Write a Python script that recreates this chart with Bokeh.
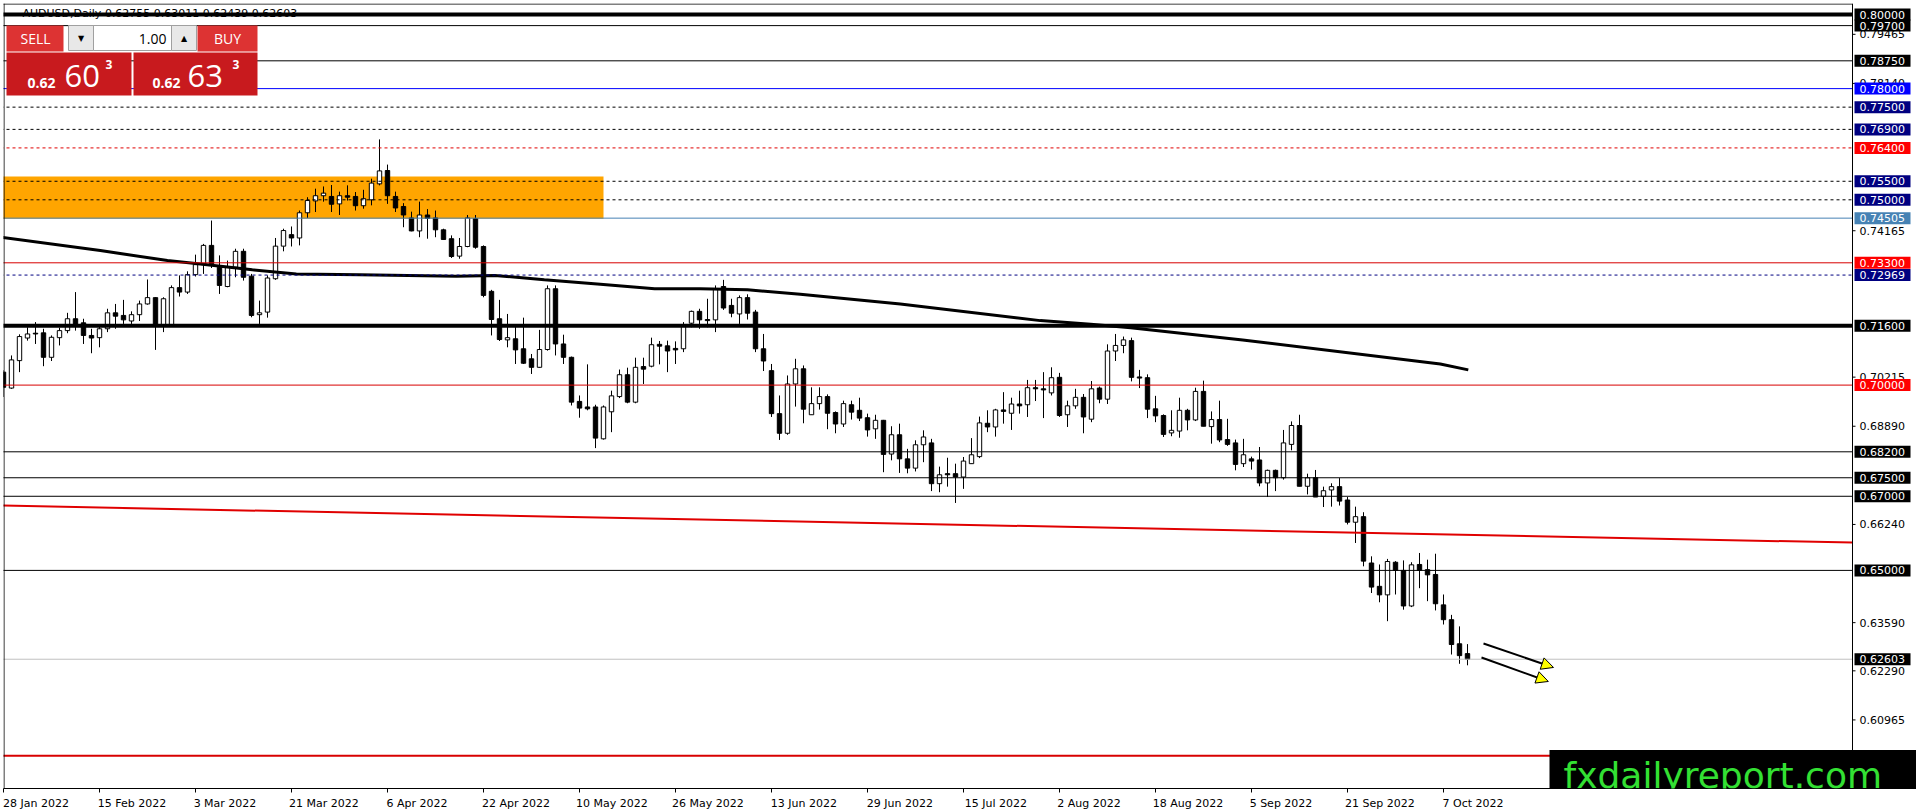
from bokeh.plotting import figure
from bokeh.models import Range1d, FixedTicker, Label, Arrow, NormalHead
from bokeh.core.properties import value
from bokeh.embed import file_html
from bokeh.resources import INLINE

# ---------------- data ----------------
symbol_title = "AUDUSD,Daily  0.62755 0.63011 0.62439 0.62603"

opens = [
    0.7035, 0.6992, 0.7066, 0.7127, 0.7140, 0.7141, 0.7075, 0.7128, 0.7147, 0.7179,
    0.7168, 0.7134, 0.7128, 0.7152, 0.7195, 0.7188, 0.7173, 0.7190, 0.7219, 0.7236,
    0.7161, 0.7161, 0.7263, 0.7251, 0.7298, 0.7325, 0.7377, 0.7318, 0.7266, 0.7318,
    0.7361, 0.7294, 0.7190, 0.7197, 0.7287, 0.7375, 0.7406, 0.7397, 0.7465, 0.7497,
    0.7511, 0.7509, 0.7489, 0.7511, 0.7509, 0.7484, 0.7500, 0.7543, 0.7579, 0.7509,
    0.7482, 0.7451, 0.7416, 0.7459, 0.7451, 0.7419, 0.7395, 0.7348, 0.7374, 0.7449,
    0.7374, 0.7253, 0.7179, 0.7122, 0.7125, 0.7098, 0.7071, 0.7048, 0.7096, 0.7260,
    0.7111, 0.7075, 0.6956, 0.6941, 0.6941, 0.6855, 0.6928, 0.6969, 0.7028, 0.6954,
    0.7050, 0.7051, 0.7110, 0.7106, 0.7099, 0.7098, 0.7167, 0.7199, 0.7177, 0.7176,
    0.7266, 0.7215, 0.7192, 0.7236, 0.7197, 0.7098, 0.7039, 0.6923, 0.6870, 0.7003,
    0.7044, 0.6920, 0.6950, 0.6969, 0.6926, 0.6895, 0.6947, 0.6932, 0.6912, 0.6882,
    0.6905, 0.6814, 0.6866, 0.6801, 0.6776, 0.6839, 0.6844, 0.6734, 0.6761, 0.6761,
    0.6752, 0.6788, 0.6807, 0.6897, 0.6887, 0.6933, 0.6924, 0.6949, 0.6947, 0.6993,
    0.6990, 0.6979, 0.7021, 0.6920, 0.6944, 0.6967, 0.6908, 0.6992, 0.6962, 0.7092,
    0.7107, 0.7120, 0.7022, 0.7020, 0.6936, 0.6918, 0.6871, 0.6876, 0.6932, 0.6906,
    0.6983, 0.6888, 0.6907, 0.6853, 0.6844, 0.6788, 0.6801, 0.6798, 0.6736, 0.6770,
    0.6750, 0.6840, 0.6891, 0.6727, 0.6750, 0.6700, 0.6717, 0.6726, 0.6690, 0.6630,
    0.6645, 0.6520, 0.6457, 0.6434, 0.6522, 0.6500, 0.6404, 0.6516, 0.6502, 0.6489,
    0.6407, 0.6367, 0.6302, 0.62755]

highs = [
    0.7040, 0.7080, 0.7137, 0.7156, 0.7170, 0.7152, 0.7134, 0.7155, 0.7195, 0.7251,
    0.7179, 0.7152, 0.7161, 0.7206, 0.7219, 0.7230, 0.7199, 0.7228, 0.7285, 0.7237,
    0.7237, 0.7269, 0.7296, 0.7307, 0.7352, 0.7381, 0.7444, 0.7350, 0.7336, 0.7368,
    0.7368, 0.7300, 0.7228, 0.7296, 0.7397, 0.7422, 0.7428, 0.7471, 0.7507, 0.7530,
    0.7536, 0.7540, 0.7522, 0.7539, 0.7521, 0.7527, 0.7557, 0.7663, 0.7595, 0.7522,
    0.7491, 0.7468, 0.7495, 0.7475, 0.7471, 0.7422, 0.7404, 0.7397, 0.7459, 0.7459,
    0.7377, 0.7257, 0.7230, 0.7192, 0.7158, 0.7182, 0.7084, 0.7149, 0.7269, 0.7269,
    0.7136, 0.7077, 0.6972, 0.7056, 0.6947, 0.6945, 0.6985, 0.7042, 0.7047, 0.7074,
    0.7074, 0.7128, 0.7119, 0.7120, 0.7118, 0.7170, 0.7201, 0.7206, 0.7233, 0.7269,
    0.7284, 0.7233, 0.7242, 0.7245, 0.7203, 0.7138, 0.7057, 0.6972, 0.7026, 0.7071,
    0.7053, 0.6994, 0.6994, 0.6975, 0.6929, 0.6958, 0.6958, 0.6966, 0.6923, 0.6920,
    0.6906, 0.6889, 0.6896, 0.6828, 0.6851, 0.6878, 0.6855, 0.6780, 0.6804, 0.6788,
    0.6806, 0.6857, 0.6915, 0.6932, 0.6936, 0.6981, 0.6966, 0.6985, 0.7014, 0.7014,
    0.7035, 0.7048, 0.7033, 0.6958, 0.6990, 0.6976, 0.7011, 0.6996, 0.7110, 0.7138,
    0.7131, 0.7128, 0.7041, 0.7029, 0.6971, 0.6921, 0.6932, 0.6966, 0.6936, 0.6993,
    0.7012, 0.6929, 0.6958, 0.6909, 0.6853, 0.6855, 0.6807, 0.6833, 0.6772, 0.6772,
    0.6879, 0.6902, 0.6920, 0.6761, 0.6771, 0.6726, 0.6735, 0.6749, 0.6698, 0.6672,
    0.6657, 0.6538, 0.6516, 0.6531, 0.6525, 0.6527, 0.6522, 0.6547, 0.6529, 0.6545,
    0.6435, 0.6380, 0.6349, 0.63011]

lows = [
    0.6968, 0.6990, 0.7035, 0.7120, 0.7111, 0.7051, 0.7065, 0.7107, 0.7140, 0.7147,
    0.7111, 0.7086, 0.7102, 0.7143, 0.7152, 0.7165, 0.7165, 0.7173, 0.7217, 0.7095,
    0.7143, 0.7158, 0.7239, 0.7246, 0.7293, 0.7300, 0.7316, 0.7246, 0.7264, 0.7291,
    0.7282, 0.7183, 0.7165, 0.7182, 0.7284, 0.7361, 0.7374, 0.7377, 0.7451, 0.7467,
    0.7495, 0.7467, 0.7459, 0.7498, 0.7471, 0.7476, 0.7485, 0.7539, 0.7489, 0.7467,
    0.7426, 0.7415, 0.7399, 0.7395, 0.7399, 0.7392, 0.7343, 0.7341, 0.7372, 0.7368,
    0.7237, 0.7134, 0.7119, 0.7102, 0.7057, 0.7057, 0.7030, 0.7047, 0.7093, 0.7080,
    0.7057, 0.6945, 0.6912, 0.6932, 0.6830, 0.6853, 0.6873, 0.6965, 0.6951, 0.6951,
    0.7003, 0.7048, 0.7056, 0.7035, 0.7057, 0.7089, 0.7156, 0.7152, 0.7156, 0.7143,
    0.7203, 0.7183, 0.7165, 0.7177, 0.7089, 0.7038, 0.6914, 0.6852, 0.6866, 0.6942,
    0.6897, 0.6920, 0.6934, 0.6881, 0.6870, 0.6887, 0.6907, 0.6903, 0.6861, 0.6855,
    0.6765, 0.6797, 0.6763, 0.6762, 0.6767, 0.6792, 0.6714, 0.6711, 0.6726, 0.6682,
    0.6720, 0.6788, 0.6803, 0.6873, 0.6861, 0.6896, 0.6879, 0.6923, 0.6914, 0.6957,
    0.6911, 0.6972, 0.6914, 0.6887, 0.6936, 0.6870, 0.6900, 0.6951, 0.6949, 0.7065,
    0.7086, 0.7010, 0.6992, 0.6911, 0.6900, 0.6860, 0.6862, 0.6858, 0.6878, 0.6903,
    0.6889, 0.6842, 0.6846, 0.6836, 0.6770, 0.6779, 0.6772, 0.6727, 0.6698, 0.6714,
    0.6745, 0.6824, 0.6727, 0.6705, 0.6698, 0.6671, 0.6672, 0.6675, 0.6624, 0.6574,
    0.6511, 0.6439, 0.6414, 0.6363, 0.6435, 0.6394, 0.6401, 0.6452, 0.6417, 0.6392,
    0.6354, 0.6273, 0.6248, 0.62439]

closes = [
    0.6994, 0.7068, 0.7131, 0.7138, 0.7138, 0.7075, 0.7129, 0.7147, 0.7179, 0.7165,
    0.7134, 0.7127, 0.7152, 0.7195, 0.7186, 0.7176, 0.7190, 0.7219, 0.7236, 0.7161,
    0.7233, 0.7263, 0.7251, 0.7298, 0.7325, 0.7377, 0.7327, 0.7269, 0.7318, 0.7361,
    0.7291, 0.7188, 0.7195, 0.7289, 0.7375, 0.7417, 0.7397, 0.7465, 0.7498, 0.7511,
    0.7518, 0.7488, 0.7511, 0.7507, 0.7484, 0.7503, 0.7545, 0.7578, 0.7511, 0.7478,
    0.7459, 0.7416, 0.7459, 0.7450, 0.7419, 0.7393, 0.7347, 0.7374, 0.7451, 0.7372,
    0.7242, 0.7177, 0.7123, 0.7128, 0.7095, 0.7059, 0.7048, 0.7096, 0.7260, 0.7111,
    0.7075, 0.6954, 0.6938, 0.6936, 0.6857, 0.6941, 0.6971, 0.7028, 0.6954, 0.7048,
    0.7043, 0.7109, 0.7105, 0.7092, 0.7095, 0.7158, 0.7199, 0.7176, 0.7174, 0.7260,
    0.7208, 0.7194, 0.7236, 0.7194, 0.7098, 0.7065, 0.6923, 0.6870, 0.7003, 0.7044,
    0.6935, 0.6950, 0.6969, 0.6924, 0.6895, 0.6950, 0.6927, 0.6911, 0.6879, 0.6905,
    0.6813, 0.6866, 0.6801, 0.6776, 0.6839, 0.6860, 0.6734, 0.6758, 0.6758, 0.6752,
    0.6795, 0.6812, 0.6898, 0.6887, 0.6933, 0.6929, 0.6949, 0.6944, 0.6993, 0.6990,
    0.6987, 0.7020, 0.6918, 0.6944, 0.6967, 0.6914, 0.6990, 0.6962, 0.7092, 0.7107,
    0.7122, 0.7021, 0.7019, 0.6935, 0.6917, 0.6867, 0.6878, 0.6932, 0.6906, 0.6983,
    0.6889, 0.6907, 0.6852, 0.6840, 0.6786, 0.6812, 0.6795, 0.6736, 0.6770, 0.6750,
    0.6844, 0.6891, 0.6727, 0.6750, 0.6698, 0.6715, 0.6726, 0.6687, 0.6630, 0.6645,
    0.6525, 0.6455, 0.6434, 0.6524, 0.6500, 0.6404, 0.6515, 0.6500, 0.6488, 0.6410,
    0.6367, 0.6300, 0.6270, 0.62603]

# time-axis labels (every 12th bar, first bar = 28 Jan 2022)
date_label_bars = [0, 12, 24, 36, 48, 60, 72, 84, 96, 108, 120, 132, 144, 156, 168, 180]
date_labels = ["28 Jan 2022", "15 Feb 2022", "3 Mar 2022", "21 Mar 2022", "6 Apr 2022",
               "22 Apr 2022", "10 May 2022", "26 May 2022", "13 Jun 2022", "29 Jun 2022",
               "15 Jul 2022", "2 Aug 2022", "18 Aug 2022", "5 Sep 2022", "21 Sep 2022",
               "7 Oct 2022"]

# price-scale ticks
price_ticks = [0.79465, 0.78140, 0.74165, 0.70215, 0.68890, 0.66240, 0.63590, 0.62290, 0.60965]

# moving average (bar index, value)
ma_bars = [-0.4, 12.1, 20.5, 24.6, 31.1, 36.6, 44.5, 56.6, 61.4, 67.6, 74.6, 81.4, 87.1,
           93.0, 99.6, 112.1, 129.6, 135.9, 140.9, 154.9, 179.6, 183.1]
ma_vals = [0.7399, 0.7363, 0.7336, 0.7327, 0.7311, 0.7300, 0.7298, 0.7294, 0.7296, 0.7284,
           0.7272, 0.7260, 0.7260, 0.7257, 0.7245, 0.7219, 0.7174, 0.7164, 0.7155, 0.7122,
           0.7057, 0.7041]

# long red trend line
trend_bars = [-0.4, 231.1]
trend_vals = [0.6675, 0.6575]

# orange supply zone
zone_left, zone_right = -3, 75
zone_bottom, zone_top = 0.7449, 0.7563

# horizontal levels
level_prices = [0.80000, 0.79700, 0.78750, 0.78000, 0.77500, 0.76900, 0.76400, 0.75500,
                0.75000, 0.74505, 0.73300, 0.72969, 0.71600, 0.70000, 0.68200, 0.67500,
                0.67000, 0.65000, 0.62603, 0.60000]

# analyst arrows (bar index, price)
arrow_x0 = [185.0, 184.75]
arrow_y0 = [0.63028, 0.62650]
arrow_x1 = [193.75, 193.1]
arrow_y1 = [0.62381, 0.62003]

# trade panel texts
lot_text = "1.00"
sell_big, sell_small, sell_sup = "60", "0.62", "3"
buy_big, buy_small, buy_sup = "63", "0.62", "3"
watermark = "fxdailyreport.com"

# ---------------- styles ----------------
level_colors = ["black", "black", "black", "#0000FF", "black", "black", "#E00000", "black",
                "black", "#4682B4", "#D80000", "#000080", "black", "#D80000", "black", "black",
                "black", "black", "#C0C0C0", "#D80000"]
level_widths = [4, 1, 1, 1, 1, 1, 1, 1, 1, 1, 1, 1, 4, 1, 1, 1, 1, 1, 1, 2]
level_dashes = ["solid", "solid", "solid", "solid", "3 3", "3 3", "3 3", "3 3", "3 3",
                "solid", "solid", "3 3", "solid", "solid", "solid", "solid", "solid", "solid",
                "solid", "solid"]
label_bgs = ["black", "black", "black", "#0000FF", "#000080", "#000080", "#FF0000", "#000080",
             "#000080", "#4682B4", "#FF0000", "#000080", "black", "#FF0000", "black", "black",
             "black", "black", "black", None]

PX_BAR = 8.0        # pixels per bar
PX_UNIT = 3706.0    # pixels per price unit
FRAME_L, FRAME_T, FRAME_B = 3, 3, 788
AXIS_X = 1852       # price-scale line
W, H = 1916, 812


def X(px):  # screen-pixel -> bar index (decorations only)
    return (px - FRAME_L) / PX_BAR


def Y(py):  # screen-pixel -> price (decorations only)
    return 0.8 - (py - 14) / PX_UNIT


# ---------------- figure ----------------
p = figure(width=W, height=H, output_backend="svg", toolbar_location=None,
           x_range=Range1d(X(FRAME_L), X(W)), y_range=Range1d(Y(FRAME_B), Y(FRAME_T)),
           min_border_left=FRAME_L, min_border_top=FRAME_T, min_border_right=0,
           min_border_bottom=H - FRAME_B, y_axis_location=None)
p.xgrid.visible = False
p.ygrid.visible = False
p.outline_line_color = None
p.background_fill_color = "white"
p.border_fill_color = "white"

x_axis_end = X(AXIS_X)
half_box = 6.0 / PX_UNIT

# orange zone
p.quad(left=[zone_left], right=[zone_right], bottom=[zone_bottom], top=[zone_top],
       fill_color="#FFA500", line_color=None, level="underlay")

# candles
idx = list(range(len(opens)))
p.segment(x0=idx, y0=lows, x1=idx, y1=highs, line_color="black", line_width=1)
up = [i for i in idx if closes[i] >= opens[i]]
dn = [i for i in idx if closes[i] < opens[i]]
p.vbar(x=up, width=0.55, bottom=[opens[i] for i in up], top=[closes[i] for i in up],
       fill_color="white", line_color="black", line_width=1)
p.vbar(x=dn, width=0.55, bottom=[closes[i] for i in dn], top=[opens[i] for i in dn],
       fill_color="black", line_color="black", line_width=1)

# moving average and trend line
p.line(ma_bars, ma_vals, line_color="black", line_width=3)
p.line(trend_bars, trend_vals, line_color="#E00000", line_width=2)

# title (under the level lines, as in the terminal)
p.text(x=[X(22)], y=[Y(12.7)], text=[symbol_title], text_font=value("DejaVu Sans"),
       text_font_size="11px", text_color="black", text_baseline="middle", text_align="left")

# horizontal levels, ending at the price scale
for lv, c, w, d in zip(level_prices, level_colors, level_widths, level_dashes):
    p.segment(x0=[X(0)], y0=[lv], x1=[x_axis_end], y1=[lv], line_color=c, line_width=w,
              line_dash=d)

# chart frame and price-scale line
p.segment(x0=[X(0)], y0=[Y(3.5)], x1=[x_axis_end], y1=[Y(3.5)], line_color="black")
p.segment(x0=[X(3.5)], y0=[Y(3)], x1=[X(3.5)], y1=[Y(FRAME_B)], line_color="black")
p.segment(x0=[x_axis_end], y0=[Y(3)], x1=[x_axis_end], y1=[Y(FRAME_B + 30)],
          line_color="black")

# price-scale ticks and labels
p.segment(x0=[x_axis_end] * len(price_ticks), y0=price_ticks,
          x1=[X(AXIS_X + 3)] * len(price_ticks), y1=price_ticks, line_color="black")
p.text(x=[X(AXIS_X + 7)] * len(price_ticks), y=price_ticks,
       text=[f"{t:.5f}" for t in price_ticks], text_font=value("DejaVu Sans"),
       text_font_size="11px", text_color="black", text_baseline="middle", text_align="left")

# price-scale level labels
lab = [(lv, bg) for lv, bg in zip(level_prices, label_bgs) if bg is not None]
p.quad(left=[X(AXIS_X + 2)] * len(lab), right=[X(AXIS_X + 58)] * len(lab),
       top=[lv + half_box for lv, _ in lab], bottom=[lv - half_box for lv, _ in lab],
       fill_color=[bg for _, bg in lab], line_color=None)
p.text(x=[X(AXIS_X + 7)] * len(lab), y=[lv for lv, _ in lab],
       text=[f"{lv:.5f}" for lv, _ in lab], text_font=value("DejaVu Sans"),
       text_font_size="11px", text_color="white", text_baseline="middle", text_align="left")

# arrows
for xs, ys, xe, ye in zip(arrow_x0, arrow_y0, arrow_x1, arrow_y1):
    p.add_layout(Arrow(end=NormalHead(size=12, fill_color="#FFFF00", line_color="black",
                                      line_width=1),
                       x_start=xs, y_start=ys, x_end=xe, y_end=ye,
                       line_color="black", line_width=2))

# time axis
xa = p.xaxis[0]
centers = [round(b + len(t) * 5.9 / 2 / PX_BAR, 3) for b, t in zip(date_label_bars, date_labels)]
xa.ticker = FixedTicker(ticks=centers, minor_ticks=date_label_bars)
xa.major_label_overrides = {c: t for c, t in zip(centers, date_labels)}
xa.major_tick_out = 0
xa.major_tick_in = 0
xa.minor_tick_out = 4
xa.minor_tick_in = 0
xa.major_label_standoff = 4
xa.major_label_text_font = "DejaVu Sans"
xa.major_label_text_font_size = "11px"
xa.major_label_text_color = "black"
xa.axis_line_color = "black"

# watermark
p.add_layout(Label(x=X(1549), y=Y(782.5), text=watermark, text_font="DejaVu Sans",
                   text_font_size="36px", text_color="#33E033", text_baseline="middle",
                   text_align="left", background_fill_color="black",
                   padding=(14, 40, 5, 20)))


# one-click trading panel (overlay)
def box(l, r, t, b, fill, line=None):
    p.quad(left=[X(l)], right=[X(r)], top=[Y(t)], bottom=[Y(b)], fill_color=fill,
           line_color=line, level="overlay")


def txt(x, y, s, size, color="white", align="left", bold=False, font="Open Sans"):
    p.text(x=[X(x)], y=[Y(y)], text=[s], text_font=value(font), text_font_size=size,
           text_color=color, text_align=align, text_baseline="middle",
           text_font_style="bold" if bold else "normal", level="overlay")


box(6, 63, 25, 51, "#DD3333")
box(68, 93, 25, 50, "#E8E8E8", "#A0A0A0")
box(93, 171, 25, 50, "white", "#A0A0A0")
box(171, 196, 25, 50, "#E8E8E8", "#A0A0A0")
box(197, 257, 25, 51, "#DD3333")
box(6, 131, 52, 95, "#C81A1E")
box(133, 257, 52, 95, "#C81A1E")

txt(35, 38, "SELL", "14px", align="center")
txt(80.5, 38, "▼", "8px", color="black", align="center", font="DejaVu Sans")
txt(166, 38, lot_text, "14px", color="black", align="right")
txt(183.5, 38, "▲", "8px", color="black", align="center", font="DejaVu Sans")
txt(227, 38, "BUY", "14px", align="center")
txt(27, 82, sell_small, "14px", bold=True)
txt(64, 75, sell_big, "31px")
txt(105, 64, sell_sup, "12px", bold=True)
txt(152, 82, buy_small, "14px", bold=True)
txt(187, 75, buy_big, "31px")
txt(232, 64, buy_sup, "12px", bold=True)

open("out.html", "w").write(file_html(p, INLINE))
